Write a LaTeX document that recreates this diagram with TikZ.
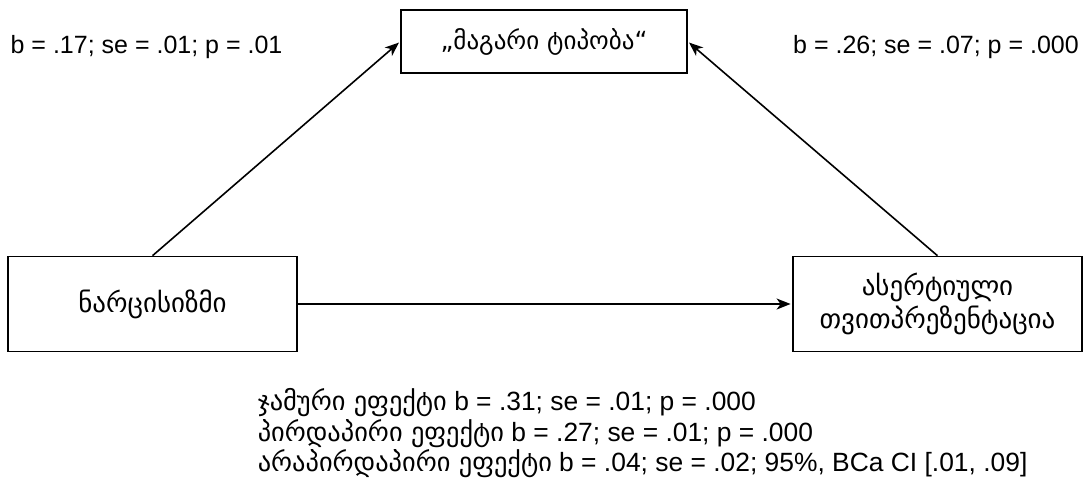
\documentclass[tikz,border=0pt]{standalone}
\usepackage{fontspec}
\setmainfont{Liberation Sans}
\newfontfamily\geo{DejaVu Sans}
\usetikzlibrary{arrows.meta,positioning}

\begin{document}
\begin{tikzpicture}[->,>={Stealth[length=7pt,width=5.5pt,inset=2pt]},shorten >=0.8pt,x=0.5pt,y=-0.5pt,thick,node distance=392.5pt,
    every node/.style={font=\fontsize{12.5}{15}\selectfont},
    box node/.style={rectangle,draw,thick,align=center,minimum width=144.5pt,minimum height=47.5pt,font=\fontsize{13.5}{16.5}\selectfont\geo}]
    \useasboundingbox (0,0) rectangle (1089,479);

    \node[box node] (narc) at (152.5,304) {ნარცისიზმი};
    \node[box node] (aser) [right of=narc] {ასერტიული\\თვითპრეზენტაცია};
    \node[box node,minimum width=143pt,minimum height=31.5pt,font=\fontsize{12.5}{15}\selectfont\geo] (magari) at (544,41.5) {„მაგარი ტიპობა“};

    \node (lab1) at (146.5,47) {b = .17; se = .01; p = .01};
    \node (lab2) at (936,47) {b = .26; se = .07; p = .000};
    \node[align=left,anchor=north west,inner sep=0pt,font=\fontsize{13.2}{13.5}\selectfont] (effects) at (257,388)
      {{\geo ჯამური ეფექტი} b = .31; se = .01; p = .000\\
       {\geo პირდაპირი ეფექტი} b = .27; se = .01; p = .000\\
       {\geo არაპირდაპირი ეფექტი} b = .04; se = .02; 95\%, BCa CI [.01, .09]};

    \path
    (narc) edge (aser)
    (narc.north) edge (magari.west)
    (aser.north) edge (magari.east);
\end{tikzpicture}
\end{document}
